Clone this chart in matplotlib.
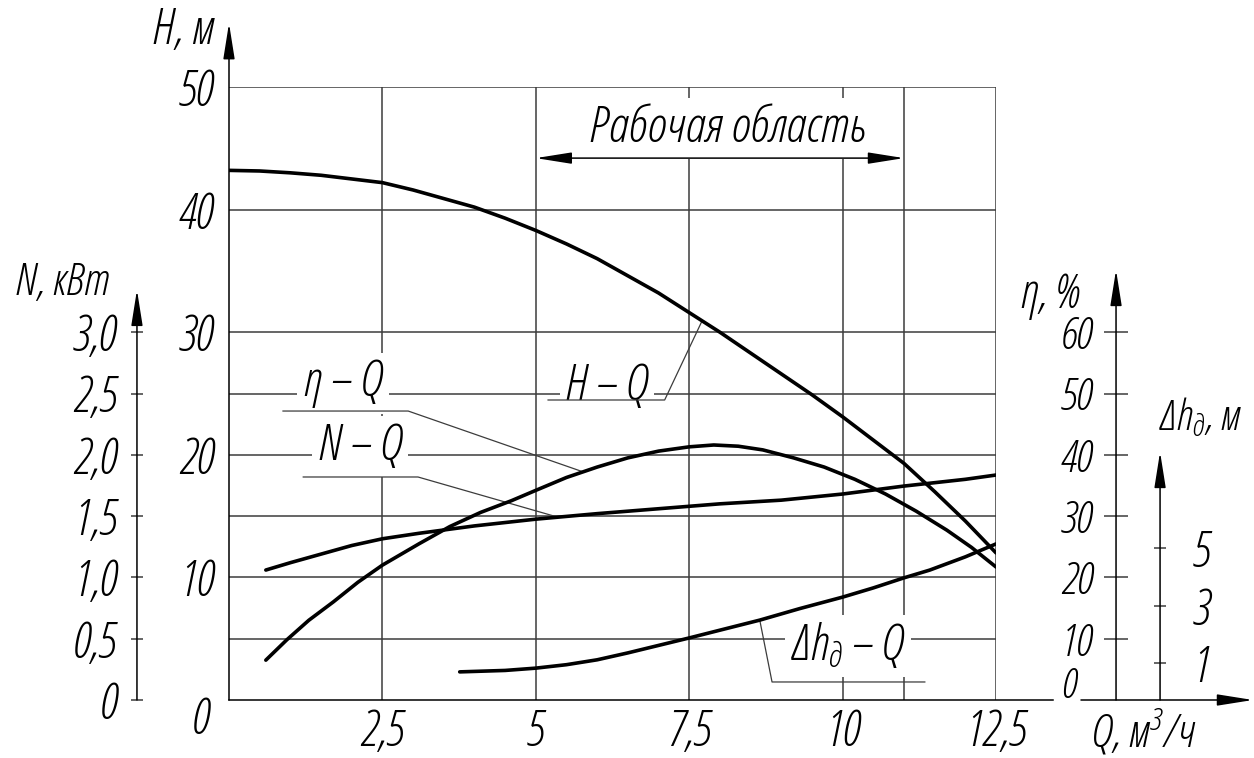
import numpy as np
import matplotlib.pyplot as plt

# characteristic curves, Q in m3/h
q_head = [0, 0.5, 1.0, 1.5, 2.0, 2.5, 3.0, 3.5, 4.0, 4.5, 5.0, 5.5, 6.0, 6.5,
          7.0, 7.5, 8.0, 8.5, 9.0, 9.5, 10.0, 10.5, 11.0, 11.5, 12.0, 12.5]
head = [43.2, 43.15, 43.0, 42.8, 42.5, 42.2, 41.6, 40.9, 40.2, 39.3, 38.3, 37.2,
        36.0, 34.6, 33.2, 31.6, 30.0, 28.3, 26.6, 24.9, 23.1, 21.2, 19.3, 17.0,
        14.6, 12.0]

q_eff = [0.6, 0.94, 1.3, 1.7, 2.1, 2.5, 3.1, 3.6, 4.1, 4.6, 5.0, 5.5, 6.0, 6.5,
         7.0, 7.5, 7.9, 8.3, 8.7, 9.2, 9.7, 10.2, 10.7, 11.2, 11.7, 12.1, 12.5]
eff = [6.5, 9.8, 13.0, 16.0, 19.2, 22.0, 25.5, 28.3, 30.6, 32.5, 34.2, 36.3,
       38.0, 39.5, 40.6, 41.3, 41.6, 41.4, 40.8, 39.5, 38.0, 36.0, 33.6, 30.8,
       27.7, 24.9, 21.7]

q_pow = [0.6, 1.0, 1.5, 2.0, 2.5, 3.1, 4.0, 5.0, 6.0, 7.0, 8.0, 9.0, 10.0,
         11.0, 12.0, 12.5]
power = [1.06, 1.12, 1.19, 1.26, 1.315, 1.36, 1.42, 1.475, 1.52, 1.56, 1.60,
         1.63, 1.68, 1.745, 1.80, 1.835]

q_npsh = [3.76, 4.5, 5.0, 5.5, 6.0, 6.5, 7.0, 7.5, 8.0, 8.65, 9.3, 10.0, 10.5,
          11.0, 11.42, 12.0, 12.5]
npsh = [0.70, 0.75, 0.83, 0.95, 1.12, 1.36, 1.62, 1.88, 2.15, 2.50, 2.90, 3.30,
        3.62, 3.97, 4.24, 4.70, 5.15]

q_ticks = [2.5, 5, 7.5, 10, 12.5]
q_grid = [2.5, 5, 7.5, 10, 11, 12.5]
h_ticks = [10, 20, 30, 40, 50]
h_grid = [5, 10, 15, 20, 25, 30, 40, 50]
n_ticks = [0, 0.5, 1.0, 1.5, 2.0, 2.5, 3.0]
eff_ticks = [10, 20, 30, 40, 50, 60]
npsh_ticks = [1, 3, 5]
work_range = (5, 11)

plt.rcParams['font.family'] = ['Open Sans', 'DejaVu Sans']
plt.rcParams['font.style'] = 'italic'
plt.rcParams['font.weight'] = 300
plt.rcParams['font.stretch'] = 'condensed'
plt.rcParams['mathtext.fontset'] = 'custom'
plt.rcParams['mathtext.it'] = 'Open Sans:style=italic:weight=300:stretch=condensed'
plt.rcParams['mathtext.rm'] = 'Open Sans:style=italic:weight=300:stretch=condensed'

W, H = 1254, 758
GRID = '#3c3c3c'
TICK_FS = 35
LABEL_FS = 35
ARROW = dict(lw=1.1, color='black', shrinkA=0, shrinkB=0, mutation_scale=10)
HEAD = '-|>,head_length=2.2,head_width=0.35'


def comma(v, fmt='%g'):
    return (fmt % v).replace('.', ',')


def fx(x):
    return x / W


def fy(y):
    return 1 - y / H


fig = plt.figure(figsize=(W / 100, H / 100), dpi=100)
rect = [fx(229), 58 / H, 767 / W, 613 / H]

ax = fig.add_axes(rect)
ax.set_xlim(0, 12.5)
ax.set_ylim(0, 50)
for s in ax.spines.values():
    s.set_visible(False)
ax.set_xticks(q_ticks, [comma(v) for v in q_ticks])
ax.set_yticks(h_ticks, [comma(v) for v in h_ticks])
ax.tick_params(axis='y', length=0, labelsize=TICK_FS, pad=11)
ax.tick_params(axis='x', length=0, labelsize=TICK_FS, pad=6)

for h in h_grid:
    ax.axhline(h, color=GRID, lw=1.1, zorder=1)
for q in q_grid:
    ax.axvline(q, color=GRID, lw=1.1, zorder=1)

# H axis and Q axis with arrows
ax.annotate('', xy=(0, 1.104), xytext=(0, 0), xycoords='axes fraction',
            arrowprops=dict(arrowstyle=HEAD, **ARROW), annotation_clip=False)
ax.plot([0, 1.0743], [0, 0], transform=ax.transAxes, color='black', lw=1.1,
        clip_on=False, zorder=2)
ax.annotate('', xy=(1.335, 0), xytext=(1.1108, 0), xycoords='axes fraction',
            arrowprops=dict(arrowstyle=HEAD, **ARROW), annotation_clip=False)

ax.plot(q_head, head, color='black', lw=2.6, zorder=5, solid_capstyle='round')


def side_axis(spine_pos, side):
    a = fig.add_axes(rect)
    a.patch.set_visible(False)
    a.set_xlim(0, 12.5)
    a.set_xticks([])
    for s in a.spines.values():
        s.set_visible(False)
    sp = a.spines[side]
    sp.set_visible(True)
    sp.set_color('none')
    sp.set_position(('axes', spine_pos))
    a.yaxis.set_ticks_position(side)
    a.yaxis.set_label_position(side)
    return a


# N axis
ax_n = side_axis(-0.12, 'left')
ax_n.set_ylim(0, 5)
ax_n.set_yticks(n_ticks, ['0'] + [comma(v, '%.1f') for v in n_ticks[1:]])
ax_n.tick_params(axis='y', direction='inout', length=8.6, width=1.1,
                 labelsize=TICK_FS, pad=10, color=GRID)
ax_n.annotate('', xy=(-0.12, 0.669), xytext=(-0.12, 0), xycoords='axes fraction',
              arrowprops=dict(arrowstyle=HEAD, **ARROW), annotation_clip=False)
ax_n.plot(q_pow, power, color='black', lw=2.6, solid_capstyle='round')

# efficiency axis
ax_e = side_axis(1.1565, 'left')
ax_e.set_ylim(0, 100)
ax_e.set_yticks(eff_ticks, [comma(v) for v in eff_ticks])
ax_e.tick_params(axis='y', direction='inout', length=17, width=1.1,
                 labelsize=32, pad=8, color=GRID)
ax_e.annotate('', xy=(1.1565, 0.7015), xytext=(1.1565, 0), xycoords='axes fraction',
              arrowprops=dict(arrowstyle=HEAD, **ARROW), annotation_clip=False)
ax_e.plot(q_eff, eff, color='black', lw=2.6, solid_capstyle='round')

# NPSH axis
ax_d = side_axis(1.2139, 'right')
ax_d.set_ylim(-0.278, 21.04)
ax_d.set_yticks(npsh_ticks, [str(v) for v in npsh_ticks])
ax_d.tick_params(axis='y', direction='inout', length=8.6, width=1.1,
                 labelsize=TICK_FS, pad=19, color=GRID)
ax_d.annotate('', xy=(1.2139, 0.4046), xytext=(1.2139, 0), xycoords='axes fraction',
              arrowprops=dict(arrowstyle=HEAD, **ARROW), annotation_clip=False)
ax_d.plot(q_npsh, npsh, color='black', lw=2.6, solid_capstyle='round')

# zero labels and axis titles
fig.text(fx(201), fy(720), '0', fontsize=TICK_FS, ha='center', va='center')
fig.text(fx(1069), fy(687), '0', fontsize=30, ha='center', va='center')
fig.text(fx(183), fy(30), 'H, м', fontsize=35, ha='center', va='center')
fig.text(fx(62), fy(283), 'N, кВт', fontsize=32, ha='center', va='center')
fig.text(fx(1050), fy(296), 'η, %', fontsize=34, ha='center', va='center')
fig.text(fx(1201), fy(418), r'$Δh_д$, м', fontsize=31, ha='center', va='center')
fig.text(fx(1143), fy(733), r'Q, м$^{3}$/ч', fontsize=33, ha='center', va='center')

# working range
ax.annotate('', xy=(work_range[1], 44.2), xytext=(work_range[0], 44.2),
            arrowprops=dict(arrowstyle='<|-|>,head_length=2.2,head_width=0.35', **ARROW),
            zorder=4)
box = dict(boxstyle='square,pad=0.12', fc='white', ec='none')
ax.text(8.12, 46.65, 'Рабочая область', fontsize=36, ha='center', va='center',
        bbox=box, zorder=3)


# curve labels with leaders
def on_curve(axc, qs, vs, q):
    v = np.interp(q, qs, vs)
    return ax.transData.inverted().transform(axc.transData.transform((q, v)))


labels = [
    ('η – Q', (1.86, 25.8), (0.88, 2.92, 23.57), (ax_e, q_eff, eff, 5.77)),
    ('N – Q', (2.13, 20.7), (1.21, 3.08, 18.19), (ax_n, q_pow, power, 5.36)),
    ('H – Q', (6.16, 25.6), (5.2, 7.1, 24.47), (ax, q_head, head, 7.71)),
    (r'$Δh_д$ – Q', (10.09, 4.4), (8.85, 11.34, 1.47), (ax_d, q_npsh, npsh, 8.65)),
]
for text, (tx, ty), (x0, x1, uy), (axc, qs, vs, qc) in labels:
    ax.text(tx, ty, text, fontsize=LABEL_FS, ha='center', va='center', bbox=box,
            zorder=3)
    px, py = on_curve(axc, qs, vs, qc)
    if px > x1:
        xs, ys = [x0, x1, px], [uy, uy, py]
    else:
        xs, ys = [px, x0, x1], [py, uy, uy]
    ax.plot(xs, ys, color=GRID, lw=0.9, zorder=3.5)

fig.savefig('out.png', dpi=100)
